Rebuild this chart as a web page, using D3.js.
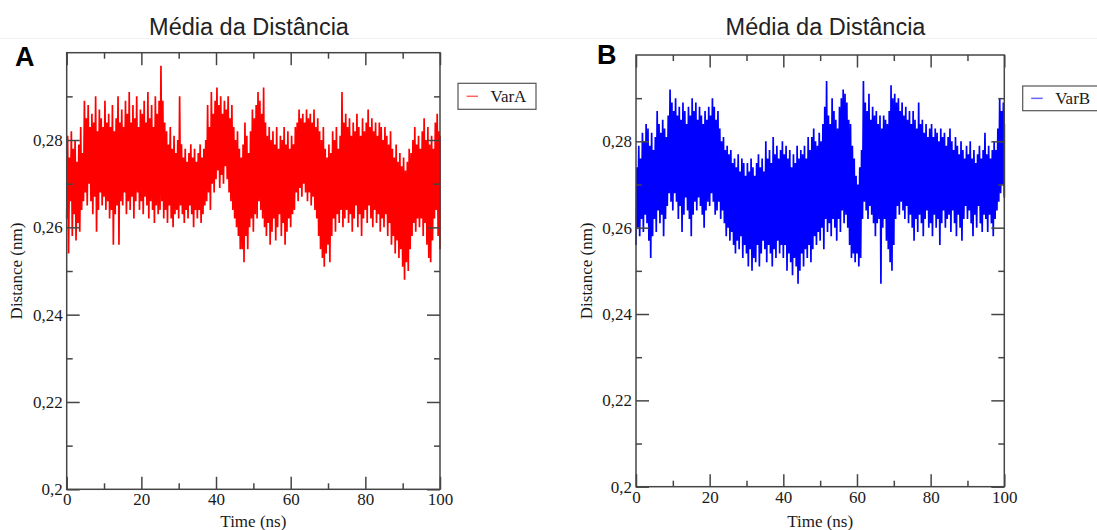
<!DOCTYPE html>
<html><head><meta charset="utf-8">
<script src="https://cdn.jsdelivr.net/npm/d3@7"></script>
<style>body{margin:0;background:#fff}svg{display:block}</style>
</head><body><svg id="c" width="1097" height="530"></svg>
<script>
// ---------- data ----------
const chartTitle = "Média da Distância";
const panelLetters = ["A", "B"];
const seriesNames = ["VarA", "VarB"];
const seriesColors = ["#ff0000", "#0000ff"];
const xTicks = [0, 20, 40, 60, 80, 100];
const xMinorTicks = [10, 30, 50, 70, 90];
const yTicks = [0.20, 0.22, 0.24, 0.26, 0.28];
const yTickLabels = ["0,2", "0,22", "0,24", "0,26", "0,28"];
const yMinorTicks = [0.21, 0.23, 0.25, 0.27, 0.29];
const xLabel = "Time (ns)";
const yLabel = "Distance (nm)";
// time grid (ns), one bin every 0.5 ns
const timeNs = d3.range(0, 100.001, 0.5);

// VarA: per-bin upper / lower envelope
const varAHigh = [
0.281,0.276,0.282,0.278,0.280,0.275,0.279,0.283,0.277,0.289,
0.285,0.288,0.283,0.286,0.284,0.290,0.282,0.287,0.285,0.283,
0.289,0.284,0.286,0.283,0.288,0.282,0.285,0.290,0.284,0.287,
0.283,0.289,0.286,0.291,0.284,0.288,0.285,0.290,0.283,0.287,
0.286,0.289,0.284,0.291,0.285,0.288,0.283,0.290,0.286,0.289,
0.297,0.289,0.284,0.282,0.279,0.283,0.278,0.281,0.277,0.280,
0.290,0.279,0.276,0.278,0.275,0.277,0.279,0.276,0.278,0.275,
0.277,0.279,0.276,0.278,0.280,0.288,0.283,0.291,0.286,0.289,
0.292,0.288,0.290,0.286,0.289,0.287,0.290,0.285,0.288,0.283,
0.280,0.282,0.278,0.276,0.279,0.284,0.281,0.277,0.282,0.287,
0.285,0.288,0.291,0.289,0.286,0.292,0.284,0.281,0.283,0.280,
0.282,0.279,0.283,0.278,0.281,0.280,0.283,0.279,0.282,0.278,
0.281,0.279,0.283,0.284,0.287,0.285,0.286,0.284,0.287,0.285,
0.286,0.284,0.287,0.283,0.285,0.282,0.280,0.283,0.278,0.276,
0.279,0.277,0.282,0.280,0.283,0.278,0.281,0.291,0.284,0.286,
0.283,0.285,0.281,0.284,0.282,0.286,0.283,0.281,0.285,0.282,
0.284,0.287,0.283,0.285,0.282,0.284,0.281,0.284,0.283,0.280,
0.283,0.281,0.279,0.282,0.278,0.276,0.279,0.275,0.277,0.274,
0.276,0.273,0.275,0.278,0.277,0.280,0.283,0.279,0.281,0.278,
0.282,0.285,0.280,0.283,0.279,0.281,0.278,0.284,0.286,0.282,0.281];
const varALow = [
0.262,0.254,0.266,0.258,0.263,0.257,0.261,0.259,0.264,0.266,
0.268,0.265,0.270,0.266,0.263,0.267,0.259,0.264,0.268,0.265,
0.267,0.264,0.266,0.262,0.264,0.256,0.263,0.265,0.256,0.266,
0.265,0.268,0.263,0.266,0.264,0.267,0.262,0.266,0.268,0.264,
0.266,0.263,0.267,0.265,0.262,0.266,0.264,0.261,0.265,0.263,
0.264,0.266,0.262,0.264,0.261,0.265,0.262,0.260,0.263,0.264,
0.262,0.265,0.263,0.261,0.264,0.262,0.265,0.263,0.260,0.264,
0.262,0.264,0.261,0.263,0.265,0.266,0.268,0.264,0.270,0.268,
0.271,0.273,0.269,0.272,0.270,0.274,0.271,0.268,0.266,0.264,
0.262,0.260,0.258,0.255,0.255,0.252,0.258,0.255,0.260,0.262,
0.259,0.263,0.262,0.266,0.264,0.262,0.260,0.258,0.261,0.256,
0.259,0.262,0.257,0.260,0.263,0.258,0.261,0.256,0.259,0.262,
0.260,0.263,0.264,0.268,0.266,0.269,0.267,0.270,0.268,0.266,
0.268,0.265,0.267,0.264,0.262,0.258,0.255,0.253,0.251,0.254,
0.256,0.252,0.258,0.262,0.259,0.263,0.261,0.264,0.260,0.262,
0.264,0.261,0.263,0.259,0.262,0.265,0.260,0.263,0.258,0.262,
0.264,0.261,0.265,0.262,0.260,0.264,0.261,0.263,0.259,0.262,
0.260,0.263,0.258,0.261,0.256,0.258,0.254,0.257,0.253,0.255,
0.251,0.248,0.252,0.250,0.255,0.258,0.261,0.259,0.262,0.260,
0.262,0.258,0.261,0.256,0.253,0.252,0.257,0.262,0.264,0.258,0.255];

// VarB: per-bin upper / lower envelope
const varBHigh = [
0.274,0.279,0.276,0.282,0.280,0.284,0.283,0.279,0.282,0.278,
0.281,0.287,0.284,0.282,0.285,0.283,0.281,0.286,0.292,0.289,
0.287,0.290,0.286,0.288,0.285,0.289,0.287,0.284,0.288,0.286,
0.290,0.287,0.289,0.285,0.288,0.286,0.284,0.287,0.285,0.288,
0.286,0.290,0.288,0.285,0.287,0.283,0.280,0.281,0.278,0.279,
0.277,0.278,0.275,0.276,0.274,0.277,0.273,0.276,0.275,0.272,
0.275,0.273,0.276,0.274,0.272,0.275,0.277,0.274,0.276,0.273,
0.280,0.276,0.278,0.275,0.281,0.277,0.279,0.276,0.278,0.280,
0.277,0.279,0.276,0.278,0.274,0.277,0.275,0.279,0.276,0.278,
0.277,0.279,0.276,0.281,0.278,0.281,0.283,0.280,0.279,0.282,
0.280,0.284,0.288,0.294,0.286,0.284,0.290,0.287,0.285,0.283,
0.288,0.290,0.292,0.291,0.289,0.285,0.284,0.279,0.276,0.272,
0.270,0.274,0.278,0.294,0.289,0.287,0.291,0.285,0.288,0.286,
0.287,0.284,0.286,0.283,0.286,0.285,0.284,0.287,0.293,0.290,
0.291,0.289,0.290,0.287,0.289,0.286,0.288,0.285,0.287,0.284,
0.287,0.285,0.283,0.289,0.284,0.285,0.282,0.284,0.281,0.283,
0.284,0.281,0.283,0.282,0.280,0.283,0.281,0.282,0.279,0.281,
0.283,0.280,0.278,0.281,0.279,0.277,0.280,0.278,0.276,0.279,
0.277,0.280,0.276,0.278,0.275,0.277,0.279,0.276,0.278,0.282,
0.277,0.279,0.276,0.278,0.280,0.278,0.283,0.290,0.287,0.289,0.284];
const varBLow = [
0.256,0.260,0.258,0.262,0.259,0.263,0.261,0.257,0.253,0.258,
0.262,0.259,0.264,0.261,0.263,0.258,0.262,0.265,0.268,0.266,
0.264,0.268,0.266,0.262,0.265,0.259,0.263,0.267,0.264,0.262,
0.258,0.263,0.266,0.264,0.267,0.265,0.263,0.260,0.264,0.266,
0.265,0.268,0.266,0.263,0.264,0.266,0.262,0.264,0.261,0.258,
0.260,0.257,0.259,0.256,0.254,0.257,0.255,0.258,0.253,0.256,
0.254,0.251,0.255,0.250,0.253,0.252,0.256,0.251,0.254,0.257,
0.255,0.252,0.256,0.254,0.251,0.255,0.253,0.257,0.254,0.256,
0.253,0.256,0.250,0.254,0.252,0.249,0.253,0.251,0.247,0.250,
0.254,0.251,0.255,0.253,0.256,0.252,0.255,0.258,0.256,0.259,
0.257,0.260,0.255,0.262,0.259,0.261,0.258,0.262,0.260,0.257,
0.262,0.259,0.264,0.261,0.263,0.260,0.256,0.253,0.254,0.252,
0.254,0.251,0.253,0.262,0.266,0.264,0.262,0.265,0.263,0.261,
0.258,0.261,0.262,0.247,0.260,0.262,0.257,0.255,0.252,0.250,
0.256,0.262,0.265,0.263,0.266,0.264,0.262,0.265,0.261,0.263,
0.260,0.257,0.262,0.259,0.263,0.261,0.258,0.262,0.264,0.260,
0.261,0.258,0.263,0.260,0.262,0.256,0.261,0.264,0.260,0.262,
0.263,0.259,0.264,0.261,0.258,0.263,0.260,0.257,0.262,0.265,
0.262,0.264,0.261,0.258,0.263,0.260,0.265,0.261,0.259,0.263,
0.262,0.259,0.263,0.261,0.258,0.262,0.264,0.266,0.268,0.270,0.267];

// ---------- layout ----------
const panels = [
  {letter: panelLetters[0], name: seriesNames[0], color: seriesColors[0], hi: varAHigh, lo: varALow,
   L: 66.7, R: 440, T: 52.7, B: 489.3, titleX: 249, titleY: 35, letterX: 15, letterY: 66,
   ylabX: 22, legend: {x: 458, y: 83.3, w: 78, h: 26}},
  {letter: panelLetters[1], name: seriesNames[1], color: seriesColors[1], hi: varBHigh, lo: varBLow,
   L: 636, R: 1004.3, T: 55, B: 486.7, titleX: 825.5, titleY: 34.5, letterX: 597, letterY: 64,
   ylabX: 592, legend: {x: 1022.7, y: 86, w: 80, h: 24.7}}
];

const svg = d3.select("#c");
svg.append("rect").attr("width", 1097).attr("height", 530).attr("fill", "#fff");
// faint separator under titles
svg.append("line").attr("x1", 0).attr("x2", 1097).attr("y1", 38.5).attr("y2", 38.5)
  .attr("stroke", "#f1f1f1").attr("stroke-width", 1);

const axisColor = "#454545";
const serif = "'Liberation Serif','Times New Roman',serif";

panels.forEach(p => {
  const x = d3.scaleLinear().domain([0, 100]).range([p.L, p.R]);
  const y = d3.scaleLinear().domain([0.2, 0.3]).range([p.B, p.T]);
  const g = svg.append("g");

  // data as zigzag between lower and upper envelope per bin
  const pts = [];
  timeNs.forEach((t, i) => {
    pts.push([t, p.lo[i]]);
    pts.push([Math.min(t + 0.25, 100), p.hi[i]]);
  });
  const line = d3.line().x(d => x(d[0])).y(d => y(d[1]));
  g.append("path").attr("d", line(pts)).attr("fill", "none")
    .attr("stroke", p.color).attr("stroke-width", 1.7).attr("stroke-linejoin", "bevel");

  // frame
  g.append("rect").attr("x", p.L).attr("y", p.T).attr("width", p.R - p.L).attr("height", p.B - p.T)
    .attr("fill", "none").attr("stroke", axisColor).attr("stroke-width", 1.5);

  const styleAxis = sel => {
    sel.select(".domain").remove();
    sel.selectAll("line").attr("stroke", axisColor).attr("stroke-width", 1.5);
    sel.selectAll("text").attr("fill", "#1a1a1a").style("font-family", serif).style("font-size", "17px");
  };
  // bottom major
  g.append("g").attr("transform", `translate(0,${p.B})`)
    .call(d3.axisBottom(x).tickValues(xTicks).tickSizeInner(-12.5).tickSizeOuter(0).tickPadding(4).tickFormat(d3.format("d")))
    .call(styleAxis);
  g.append("g").attr("transform", `translate(0,${p.B})`)
    .call(d3.axisBottom(x).tickValues(xMinorTicks).tickSizeInner(-6).tickSizeOuter(0).tickFormat(""))
    .call(styleAxis);
  // top
  g.append("g").attr("transform", `translate(0,${p.T})`)
    .call(d3.axisTop(x).tickValues(xTicks).tickSizeInner(-12.5).tickSizeOuter(0).tickFormat(""))
    .call(styleAxis);
  g.append("g").attr("transform", `translate(0,${p.T})`)
    .call(d3.axisTop(x).tickValues(xMinorTicks).tickSizeInner(-6).tickSizeOuter(0).tickFormat(""))
    .call(styleAxis);
  // left
  g.append("g").attr("transform", `translate(${p.L},0)`)
    .call(d3.axisLeft(y).tickValues(yTicks).tickSizeInner(-13).tickSizeOuter(0).tickPadding(4)
      .tickFormat((d, i) => yTickLabels[i]))
    .call(styleAxis);
  g.append("g").attr("transform", `translate(${p.L},0)`)
    .call(d3.axisLeft(y).tickValues(yMinorTicks).tickSizeInner(-6).tickSizeOuter(0).tickFormat(""))
    .call(styleAxis);
  // right
  g.append("g").attr("transform", `translate(${p.R},0)`)
    .call(d3.axisRight(y).tickValues(yTicks).tickSizeInner(-13).tickSizeOuter(0).tickFormat(""))
    .call(styleAxis);
  g.append("g").attr("transform", `translate(${p.R},0)`)
    .call(d3.axisRight(y).tickValues(yMinorTicks).tickSizeInner(-6).tickSizeOuter(0).tickFormat(""))
    .call(styleAxis);

  // axis labels
  g.append("text").attr("x", (p.L + p.R) / 2).attr("y", 526.5).attr("text-anchor", "middle")
    .style("font-family", serif).style("font-size", "17px").attr("fill", "#1a1a1a").text(xLabel);
  g.append("text").attr("transform", `translate(${p.ylabX},${(p.T + p.B) / 2}) rotate(-90)`)
    .attr("text-anchor", "middle").style("font-family", serif).style("font-size", "17px")
    .attr("fill", "#1a1a1a").text(yLabel);

  // title & panel letter
  svg.append("text").attr("x", p.titleX).attr("y", p.titleY).attr("text-anchor", "middle")
    .style("font-family", "'Liberation Sans',Arial,sans-serif").style("font-size", "23.5px")
    .attr("fill", "#222").text(chartTitle);
  svg.append("text").attr("x", p.letterX).attr("y", p.letterY)
    .style("font-family", "'Liberation Sans',Arial,sans-serif").style("font-size", "27px")
    .style("font-weight", "bold").attr("fill", "#000").text(p.letter);

  // legend
  const lg = svg.append("g");
  lg.append("rect").attr("x", p.legend.x).attr("y", p.legend.y).attr("width", p.legend.w).attr("height", p.legend.h)
    .attr("fill", "#fff").attr("stroke", "#555").attr("stroke-width", 1.2);
  const my = p.legend.y + p.legend.h / 2;
  lg.append("line").attr("x1", p.legend.x + 8.5).attr("x2", p.legend.x + 20).attr("y1", my).attr("y2", my)
    .attr("stroke", p.color).attr("stroke-width", 1.5).attr("opacity", 0.6);
  lg.append("text").attr("x", p.legend.x + 32.5).attr("y", my + 6)
    .style("font-family", serif).style("font-size", "17px").attr("fill", "#1a1a1a").text(p.name);
});
</script></body></html>
